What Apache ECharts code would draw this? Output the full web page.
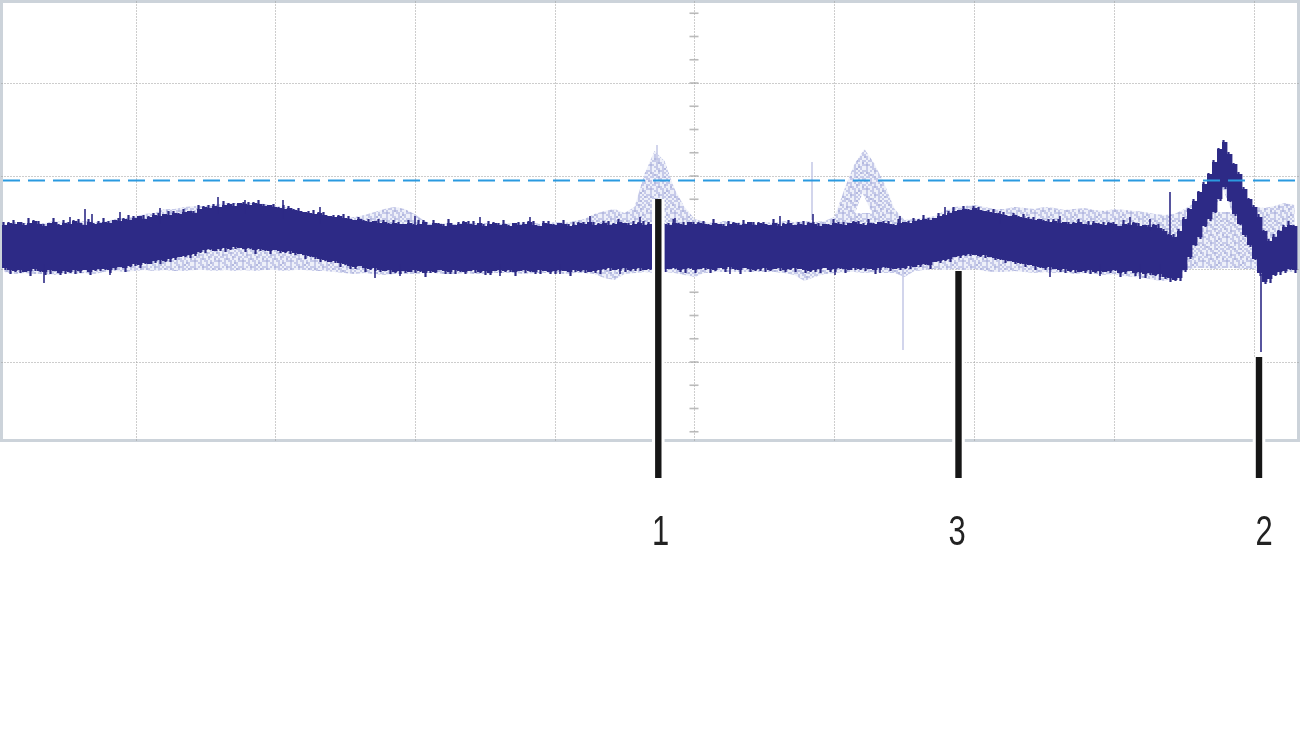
<!DOCTYPE html>
<html>
<head>
<meta charset="utf-8">
<script src="https://cdn.jsdelivr.net/npm/echarts@6/dist/echarts.min.js"></script>
<style>
html,body{margin:0;padding:0;background:#fff;}
#c{width:1300px;height:731px;filter:blur(0.4px);}
</style>
</head>
<body>
<div id="c"></div>
<script>
// Main trace envelope, one value per sample column
const traceHigh = [
44,46,45,47,44,46,48,45,43,46,47,44,46,45,48,46,44,47,45,46,
47,46,49,48,50,49,51,53,50,52,54,53,55,54,56,55,57,58,56,60,
62,61,63,62,64,65,63,66,65,64,66,65,63,64,62,61,60,61,59,58,
57,56,55,56,54,53,52,53,51,50,49,50,48,47,48,46,47,45,46,45,
45,46,44,45,47,44,46,45,43,46,44,45,47,45,44,46,43,45,46,44,
45,43,46,44,45,47,44,43,46,45,44,46,45,43,44,46,45,47,44,45,
46,44,45,47,46,44,45,46,44,45,46,47,45,44,46,45,44,47,45,46,
45,44,46,45,43,45,46,44,45,47,44,46,45,44,46,43,45,46,44,45,
44,46,45,43,45,44,46,45,44,46,47,45,44,46,45,47,46,45,44,46,
47,46,48,49,50,49,51,53,54,56,58,59,60,59,61,59,58,57,56,55,
54,53,54,52,51,50,49,50,48,47,48,46,47,45,46,47,45,44,46,45,
44,46,45,43,45,44,46,43,44,42,44,41,38,34,32,38,50,60,68,77,
85,95,107,120,127,115,105,95,80,70,62,52,38,28,32,38,42,44,43];
const traceLow = [
1,-1,-2,-1,-3,-2,0,-2,-3,-1,-2,-4,-2,-3,-1,-2,-1,-3,-1,0,
0,-1,1,2,1,3,5,4,6,5,8,9,8,10,11,12,13,14,15,17,
19,20,18,20,21,20,22,21,20,21,19,20,19,18,19,18,17,18,16,15,
14,13,12,10,9,7,8,6,5,3,2,3,1,0,1,-1,-2,-1,-3,-2,
-2,-3,-1,-2,-4,-2,-3,-1,-2,-3,-1,-2,-3,-2,-1,-3,-2,-4,-2,-1,
-2,-1,-3,-2,-1,-2,-3,-1,-2,-3,-2,-1,-2,-3,-1,-2,-1,-3,-2,-1,
0,1,-1,0,1,-1,0,1,-1,0,1,2,0,0,1,-1,0,1,-1,0,
1,0,-1,1,0,2,0,-1,1,0,-1,0,1,-1,0,1,-1,0,1,0,
-1,-2,-1,0,1,-1,0,1,0,-1,1,0,1,0,-1,1,2,1,0,1,
1,3,2,4,5,4,7,8,9,10,12,13,14,15,14,13,14,12,11,10,
9,8,7,6,5,4,3,2,1,2,0,-1,0,-2,-1,-3,-2,-1,-3,-2,
-3,-2,-1,-4,-3,-2,-4,-3,-5,-4,-6,-5,-8,-9,-11,-9,-1,12,24,32,
43,50,57,70,82,68,55,45,34,24,10,-4,-13,-10,-6,-3,-2,0,-1];

// Extra height of the fine grass on each edge of the trace, per column
const grassUp = [
3,1,4,0,2,5,1,3,2,0,4,1,3,2,1,4,0,3,1,2,
4,2,0,3,1,5,2,0,4,1,2,3,0,4,2,1,3,0,2,4,
1,3,2,0,4,1,3,0,2,3,1,4,2,0,3,1,4,2,1,3,
0,2,4,1,3,0,2,1,4,3,0,2,1,3,0,4,2,1,3,2,
0,3,1,4,2,0,3,1,2,4,0,2,1,3,4,0,2,3,1,2,
4,1,0,3,2,1,4,0,2,3,1,0,4,2,3,1,2,0,3,1,
2,4,1,3,0,2,3,1,4,2,0,3,1,2,4,1,3,0,2,1,
3,1,4,0,2,3,1,2,4,0,3,1,2,0,4,2,1,3,0,2,
4,1,2,3,0,1,4,2,3,0,1,3,2,4,1,0,2,3,1,4,
0,2,3,1,4,2,0,3,1,2,4,0,3,1,2,3,0,2,4,1,
3,0,2,1,4,2,3,0,1,3,2,4,0,2,1,3,0,4,2,1,
3,1,2,0,4,2,1,3,0,2,1,4,2,1,3,2,2,1,2,1,
2,1,2,1,2,2,1,2,2,1,2,3,1,2,3,1,2,4,1];
const grassDown = [
2,4,1,3,0,5,2,1,3,4,0,2,3,1,4,2,0,3,1,2,
1,3,2,0,4,1,2,3,1,0,2,4,1,3,2,0,1,3,2,1,
3,1,0,2,4,1,2,0,3,1,4,2,1,3,0,2,1,3,2,0,
4,1,2,3,1,0,2,4,1,3,2,0,4,1,3,2,0,4,1,3,
2,0,3,1,4,2,1,0,3,2,4,1,2,0,3,1,4,2,0,3,
1,2,4,0,3,1,2,4,0,2,3,1,0,4,2,1,3,0,2,4,
1,3,0,2,4,1,2,3,0,1,4,2,3,0,1,2,4,1,3,0,
2,4,1,0,3,2,1,4,0,3,1,2,4,1,0,3,2,1,4,0,
3,1,2,4,0,2,3,1,4,0,2,1,3,0,4,2,1,3,0,2,
1,3,0,2,1,4,0,2,1,3,0,2,1,2,0,1,3,0,2,1,
3,0,2,1,3,0,4,1,2,3,0,2,4,1,3,0,2,4,1,3,
0,2,1,4,2,0,3,1,4,2,1,3,2,4,1,3,2,2,1,2,
1,2,1,2,2,1,2,1,2,2,1,3,2,4,1,3,2,1,3];

// Short excursions of the main trace
const spikeX    = [8.4,13.6,16.6,18,23.6,31.6,43.2,48.6,56.2,63.6,82.6,95.6,105.6,117.6,127.6,134.6,155.6,162.2,179.6,188.6,199.6,211.6,225.6,229.6,233.6,251.8,21.6,74.6,79.6,99.6,111.6,123.6,145.6,166.6,175.6,209.6,219.6,227.6,231.6];
const spikeLow  = [-14,40,40,40,40,45,55,55,50,45,40,40,40,40,40,40,40,40,40,50,45,40,40,38,30,-83,-6,-9,-7,-7,-5,-5,-5,-6,-4,-8,-7,-10,-11];
const spikeHigh = [5,52,60,55,57,61,72,69,69,62,53,52,52,53,52,51,53,55,53,62,58,53,52,50,77,-5,5,5,5,5,5,5,5,5,5,5,5,5,5];

// Faint persistence trace envelope, one value every second sample
const ghostHigh = [
44,47,46,46,46,48,47,47,48,47,
47,50,51,52,55,56,60,60,62,63,
63,64,66,66,66,66,65,63,62,60,
56,55,53,52,50,52,54,57,60,62,
60,55,48,45,46,45,46,46,46,45,
46,45,47,46,45,47,46,48,50,55,
58,60,56,62,95,118,108,80,62,50,
47,46,48,47,46,45,47,46,48,47,
48,47,48,52,80,105,120,105,85,60,
49,50,51,53,58,62,63,64,62,60,
60,62,61,60,62,61,59,60,61,59,
58,60,59,58,57,55,54,55,60,66,
72,80,85,80,70,62,61,63,66,64];
const ghostLow = [
-3,-5,-4,-5,-5,-6,-4,-5,-4,-5,
-3,-2,-3,-2,-1,-2,-1,-2,-2,-1,
-1,-2,-1,-2,-1,-2,-1,-1,-2,-1,
-1,-2,-2,-3,-4,-5,-4,-5,-6,-5,
-5,-5,-4,-4,-5,-5,-4,-5,-5,-4,
-4,-4,-5,-4,-4,-4,-5,-4,-4,-5,
-9,-11,-5,-4,-3,-4,-3,-4,-6,-8,
-4,-3,-3,-3,-3,-3,-3,-3,-4,-6,
-12,-8,-5,-4,-3,-3,-4,-3,-4,-4,
-8,-2,-1,0,-1,0,-1,0,-2,-3,
-3,-2,-3,-4,-3,-4,-3,-5,-4,-5,
-6,-5,-7,-8,-9,-11,-12,-9,-1,1,
1,0,1,1,0,0,-8,-5,-3,-3];

// Thin faint excursions
const ghostSpikeX    = [131,162,180.2];
const ghostSpikeLow  = [100,49,-81];
const ghostSpikeHigh = [124,107,-1];

// Empty centres of the faint peaks [sample, value]
const ghostGapA = [[170.6,56],[172.1,76],[174,56]];
const ghostGapB = [[242.6,57],[244.1,81],[246,57]];

// Reference level
const levelX = [0.2,259];
const levelY = [88.5,88.5];

// Graticule
const gridX = [26.8,54.6,82.6,110.6,138.4,166.4,194.4,222.4,250.4];
const gridY = [-93,0,93,186];
const centreX = 138.4;
const centreTicks = [-162.75,-139.5,-116.25,-93,-69.75,-46.5,-23.25,0,23.25,46.5,69.75,93,116.25,139.5,162.75,186,209.25,232.5,255.75];

// Numbered markers
const markerNames = ['1','3','2'];
const markerX     = [131.26,191.3,251.4];
const markerTop   = [70,-2,-88];
const markerBase  = -209;
const labelX      = [131.7,191,252.4];
const labelY      = -264;

const COLORS = {dark:'#2d2a86', grid:'#9a9a9a', frame:'#ccd3da', level:'#2a9ae0', bar:'#161616'};

// Speckle tile for the faint trace
const tile = ['.#..##.#+.#.','##.#.+##.#.#','.+#..#.##.+#','#.#+#..#.#..','.##.#+.#+.##','#..#.##..#.#','+#.#..#+#.#.','.#.+##.#.##.','#.##.#..+#.#','.#..#+#.#..+','#+#.#.##.#.#','.#.##..#.+#.'];
const tileCanvas = document.createElement('canvas');
tileCanvas.width = tileCanvas.height = 24;
(function(){
  const g = tileCanvas.getContext('2d');
  const shades = {'#':'#c6cae9','+':'#b4b9df','.':'#eef0f9'};
  tile.forEach((row,y)=>row.split('').forEach((ch,x)=>{g.fillStyle=shades[ch];g.fillRect(x*2,y*2,2,2);}));
})();

const traceData = traceHigh.map((h,i)=>[i+0.5,traceLow[i],h]);
const grassUpData = grassUp.map((d,i)=>[i+0.3,traceHigh[i],traceHigh[i]+d]);
const grassDownData = grassDown.map((d,i)=>[i+0.7,traceLow[i]-d,traceLow[i]]);
const spikeData = spikeX.map((x,i)=>[x,spikeLow[i],spikeHigh[i]]);
const ghostSpikeData = ghostSpikeX.map((x,i)=>[x,ghostSpikeLow[i],ghostSpikeHigh[i]]);
const markerData = markerX.map((x,i)=>[x,markerTop[i],markerBase]);
const labelData = labelX.map((x,i)=>[x,labelY,markerNames[i]]);
const centreData = centreTicks.map(v=>[centreX,v]);
const levelData = levelX.map((x,i)=>[x,levelY[i]]);

function columns(api){
  const x = api.value(0), lo = api.value(1), hi = api.value(2);
  const a = api.coord([x-0.5,hi]), b = api.coord([x+0.5,lo]);
  return {type:'rect',shape:{x:a[0],y:a[1],width:b[0]-a[0]+0.4,height:b[1]-a[1]},style:{fill:COLORS.dark}};
}
function thin(color,width){
  return function(p,api){
    const a = api.coord([api.value(0),api.value(2)]), b = api.coord([api.value(0),api.value(1)]);
    return {type:'rect',shape:{x:a[0]-width/2,y:a[1],width:width,height:b[1]-a[1]},style:{fill:color}};
  };
}
function ghostShape(p,api){
  const pts = [];
  ghostHigh.forEach((v,j)=>pts.push(api.coord([2*j+0.5,v])));
  for(let j=ghostLow.length-1;j>=0;j--) pts.push(api.coord([2*j+0.5,ghostLow[j]]));
  return {type:'polygon',shape:{points:pts},style:{fill:{image:tileCanvas,repeat:'repeat'}}};
}
function gapShape(p,api){
  const gap = p.dataIndex===0?ghostGapA:ghostGapB;
  return {type:'polygon',shape:{points:gap.map(q=>api.coord(q))},style:{fill:'#fff'}};
}
function markerShape(p,api){
  const a = api.coord([api.value(0),api.value(1)]), b = api.coord([api.value(0),api.value(2)]);
  return {type:'group',children:[
    {type:'rect',shape:{x:a[0]-6.3,y:a[1],width:12.6,height:b[1]-a[1]},style:{fill:'#fff'}},
    {type:'rect',shape:{x:a[0]-3.2,y:a[1],width:6.4,height:b[1]-a[1]},style:{fill:COLORS.bar}}
  ]};
}
function labelShape(p,api){
  const a = api.coord([api.value(0),api.value(1)]);
  return {type:'text',x:a[0],y:a[1],scaleX:0.72,style:{text:labelData[p.dataIndex][2],x:0,y:0,align:'center',verticalAlign:'middle',
    font:'43px "Liberation Sans Narrow","Liberation Sans",sans-serif',fill:'#222'}};
}

const chart = echarts.init(document.getElementById('c'),null,{renderer:'canvas'});
chart.setOption({
  animation:false,
  backgroundColor:'#fff',
  grid:{show:true,left:1.5,top:1.5,width:1297,height:439,borderColor:COLORS.frame,borderWidth:3,backgroundColor:'#fff'},
  xAxis:{type:'value',min:-0.1,max:259.3,axisLine:{show:false},axisLabel:{show:false},
    axisTick:{show:false,customValues:gridX},
    splitLine:{show:true,lineStyle:{type:[1,2],color:COLORS.grid,width:1}}},
  yAxis:{type:'value',min:-171.5,max:267.5,axisLine:{show:false},axisLabel:{show:false},
    axisTick:{show:false,customValues:gridY},
    splitLine:{show:true,lineStyle:{type:[1,2],color:COLORS.grid,width:1}}},
  series:[
    {type:'scatter',z:1,data:centreData,symbol:'rect',symbolSize:[9,1.6],itemStyle:{color:'#aaaaaa'},silent:true},
    {type:'custom',z:2,data:[[0]],renderItem:ghostShape,silent:true},
    {type:'custom',z:2,data:ghostSpikeData,renderItem:thin('#c3c7e6',1.5),silent:true},
    {type:'custom',z:3,data:[[0],[1]],renderItem:gapShape,silent:true},
    {type:'custom',z:4,data:traceData,renderItem:(p,api)=>columns(api),silent:true},
    {type:'custom',z:4,data:grassUpData,renderItem:thin(COLORS.dark,2.2),silent:true},
    {type:'custom',z:4,data:grassDownData,renderItem:thin(COLORS.dark,2.2),silent:true},
    {type:'custom',z:5,data:spikeData,renderItem:thin(COLORS.dark,1.6),silent:true},
    {type:'line',z:6,data:levelData,showSymbol:false,silent:true,
      lineStyle:{color:COLORS.level,width:2,type:[17,8]}},
    {type:'custom',z:7,data:markerData,renderItem:markerShape,silent:true},
    {type:'custom',z:8,data:labelData,renderItem:labelShape,silent:true}
  ]
});
</script>
</body>
</html>
